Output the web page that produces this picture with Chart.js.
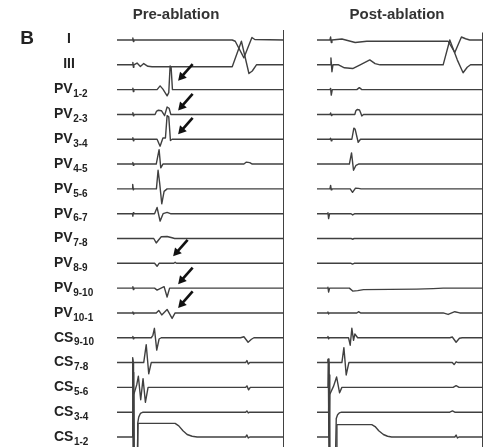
<!DOCTYPE html>
<html>
<head>
<meta charset="utf-8">
<script src="https://cdn.jsdelivr.net/npm/chart.js@4.4.1/dist/chart.umd.min.js"></script>
<style>
  body { margin: 0; background: #fff; }
  #wrap { position: relative; width: 485px; height: 447px; }
  #pre { position: absolute; left: 0; top: 0; }
  #post { position: absolute; left: 290px; top: 0; }
</style>
</head>
<body>
<div id="wrap">
  <canvas id="pre" width="290" height="447"></canvas>
  <canvas id="post" width="195" height="447"></canvas>
</div>
<script>
// channels, top to bottom: name + subscript
const leadNames = ['I', 'III', 'PV', 'PV', 'PV', 'PV', 'PV', 'PV', 'PV', 'PV', 'PV', 'PV', 'CS', 'CS', 'CS', 'CS', 'CS'];
const leadSubs = ['', '', '1-2', '2-3', '3-4', '4-5', '5-6', '6-7', '7-8', '8-9', '9-10', '10-1', '9-10', '7-8', '5-6', '3-4', '1-2'];

// each trace: [time (ms), amplitude (channel spacings)]
// pre-ablation
const preI = [[0,0],[92,0],[95,0.08],[98,-0.06],[101,0],[690,0],[708,-0.05],[760,-0.72],[790,-0.2],[808,0.1],[825,0.02],[1000,0]];
const preIII = [[0,0],[92,0],[95,0.1],[98,-0.1],[101,0],[120,0.07],[140,-0.07],[160,0.05],[185,-0.06],[210,-0.08],[690,-0.08],[745,0.95],[790,-0.35],[810,-0.25],[835,0],[1000,0]];
const prePV12 = [[0,0],[92,0],[95,0.06],[98,-0.08],[101,0],[240,0],[258,0.15],[275,0.02],[300,-0.25],[310,-0.12],[318,0.95],[324,0.9],[332,0],[1000,0]];
const prePV23 = [[0,0],[92,0],[95,0.07],[98,-0.05],[101,0],[228,0],[236,0.12],[248,0.17],[266,0.15],[285,-0.05],[300,0.3],[312,0.25],[322,0],[1000,0]];
const prePV34 = [[0,0],[92,0],[95,0.06],[98,-0.06],[101,0],[240,0],[258,-0.28],[275,0.05],[290,0.05],[300,0.95],[310,0.9],[320,-0.05],[330,0],[1000,0]];
const prePV45 = [[0,0],[92,0],[95,0.06],[98,-0.05],[101,0],[235,0],[252,0.58],[262,-0.15],[275,0],[760,0],[775,0.08],[795,0.06],[810,0],[1000,0]];
const prePV56 = [[0,0],[90,0],[94,0.18],[98,-0.04],[102,0],[236,0],[246,0.75],[256,0.2],[268,-0.6],[282,-0.1],[300,0],[1000,0]];
const prePV67 = [[0,0],[92,0],[95,-0.1],[98,0.04],[101,0],[225,0],[240,0.25],[258,-0.3],[276,0],[300,0.05],[320,0],[1000,0]];
const prePV78 = [[0,0],[220,0],[235,-0.18],[250,-0.05],[265,0.07],[300,0.08],[330,0.03],[345,0],[1000,0]];
const prePV89 = [[0,0],[225,0],[240,-0.12],[252,0],[340,0],[348,0.04],[356,0],[1000,0]];
const prePV910 = [[0,0],[92,0],[95,0.06],[98,-0.06],[101,0],[225,0],[240,-0.08],[255,-0.03],[282,0.06],[300,-0.36],[315,0],[1000,0]];
const prePV101 = [[0,0],[92,0],[95,0.04],[98,-0.04],[101,0],[235,0],[250,0.1],[268,-0.08],[300,0.14],[330,-0.22],[348,0],[1000,0]];
const preCS910 = [[0,0],[92,0],[95,0.05],[98,-0.04],[101,0],[205,0],[215,0.1],[224,0.38],[238,-0.5],[252,-0.05],[265,0],[740,0],[760,0.04],[785,-0.18],[805,-0.06],[820,0],[1000,0]];
const preCS78 = [[0,0],[90,0],[94,0.15],[98,0],[160,0],[175,0.72],[190,-0.45],[205,0],[770,0],[778,0.08],[786,-0.06],[795,0],[1000,0]];
const preCS56 = [[0,0],[92,0],[94,1.2],[97,-2.6],[100,-0.3],[118,0.1],[128,0.45],[142,-0.5],[156,0.35],[170,-0.6],[186,0],[770,0],[778,0.06],[788,-0.1],[798,0],[1000,0]];
const preCS34 = [[0,0],[97,0],[100,1.6],[103,-1.6],[121,-1.6],[124,-0.45],[130,-0.2],[140,-0.05],[156,0],[770,0],[778,0.05],[786,-0.03],[795,0],[1000,0]];
const preCS12 = [[0,0],[94,0],[96,3.0],[99,-0.6],[122,-0.6],[126,0.55],[348,0.55],[370,0.45],[395,0.25],[420,0.1],[450,0.03],[480,0],[770,0],[778,0.08],[786,-0.04],[795,0],[1000,0]];

// post-ablation
const postI = [[0,0],[78,0],[82,0.12],[86,-0.1],[90,0],[150,0.04],[230,-0.1],[300,-0.05],[760,-0.05],[790,-0.05],[830,-0.5],[870,0.12],[895,0.05],[920,0],[1000,0]];
const postIII = [[0,0],[80,0],[84,0.28],[90,-0.28],[96,0],[130,0],[165,-0.12],[215,-0.15],[260,0],[318,0.2],[350,0.05],[380,0],[760,0],[800,1.0],[845,0.2],[880,-0.32],[905,-0.1],[925,0],[1000,0]];
const postPV12 = [[0,0],[78,0],[82,0.05],[86,-0.22],[92,0],[240,0],[255,0.08],[270,0],[1000,0]];
const postPV23 = [[0,0],[78,0],[82,0.06],[86,-0.04],[90,0],[228,0],[234,0.15],[242,0.2],[256,0.18],[264,0.05],[270,-0.06],[280,0],[1000,0]];
const postPV34 = [[0,0],[78,0],[82,0.04],[86,-0.06],[90,0],[210,0],[222,0.45],[230,0.4],[248,-0.12],[262,0],[1000,0]];
const postPV45 = [[0,0],[195,0],[208,0.45],[220,-0.25],[235,-0.05],[250,0],[1000,0]];
const postPV56 = [[0,0],[78,0],[82,0.14],[86,-0.04],[90,0],[200,0],[214,-0.14],[232,0.03],[250,0.02],[265,0],[1000,0]];
const postPV67 = [[0,0],[62,0],[66,0.04],[70,-0.2],[76,0],[205,0],[215,-0.05],[228,0],[1000,0]];
const postPV78 = [[0,0],[205,0],[214,-0.03],[224,0],[1000,0]];
const postPV89 = [[0,0],[205,0],[214,-0.03],[224,0],[1000,0]];
const postPV910 = [[0,0],[62,0],[66,0.04],[70,-0.16],[76,0],[195,0],[215,-0.12],[245,-0.1],[280,-0.06],[600,-0.04],[700,-0.02],[760,0],[1000,0]];
const postPV101 = [[0,0],[62,0],[66,0.04],[70,-0.04],[74,0],[240,0],[250,0.05],[262,0],[760,0],[790,-0.06],[830,0.05],[860,0],[1000,0]];
const postCS910 = [[0,0],[62,0],[66,0.05],[70,-0.04],[74,0],[190,0],[200,-0.3],[210,0.38],[220,-0.1],[228,0.15],[245,0],[800,0],[815,0.03],[838,-0.18],[858,-0.02],[875,0],[1000,0]];
const postCS78 = [[0,0],[62,0],[66,0.12],[72,0],[150,0],[162,0.6],[176,-0.5],[192,0],[815,0],[826,-0.08],[838,0.03],[850,0],[1000,0]];
const postCS56 = [[0,0],[66,0],[68,1.15],[72,-2.6],[76,-0.3],[100,0.05],[118,0.42],[136,-0.22],[150,0],[820,0],[838,0.07],[856,0],[1000,0]];
const postCS34 = [[0,0],[70,0],[73,1.5],[77,-1.6],[112,-1.6],[116,-0.25],[124,-0.1],[134,-0.03],[148,0],[800,0],[816,0.05],[830,0],[1000,0]];
const postCS12 = [[0,0],[70,0],[72,3.0],[76,-0.6],[116,-0.6],[120,0.5],[330,0.5],[350,0.42],[372,0.25],[400,0.1],[425,0.03],[450,0],[830,0],[838,0.08],[846,-0.04],[855,0],[1000,0]];

const preTraces = [preI, preIII, prePV12, prePV23, prePV34, prePV45, prePV56, prePV67, prePV78, prePV89, prePV910, prePV101, preCS910, preCS78, preCS56, preCS34, preCS12];
const postTraces = [postI, postIII, postPV12, postPV23, postPV34, postPV45, postPV56, postPV67, postPV78, postPV89, postPV910, postPV101, postCS910, postCS78, postCS56, postCS34, postCS12];

// arrows marking PV potentials: [time (ms), channel, amplitude]
const preArrows = [[366, 2, 0.36], [366, 3, 0.16], [366, 4, 0.2], [336, 9, 0.28], [366, 10, 0.16], [366, 11, 0.2]];

const SWEEP_MS = 1000;
const Y_MAX = 1.612;
const Y_MIN = -16.403;
const FONT = '"Liberation Sans", Arial, Helvetica, sans-serif';

function buildDatasets(traces, barTop) {
  const sets = traces.map((tr, k) => ({
    data: tr.map(([t, a]) => ({ x: t, y: a - k })),
    borderColor: '#404040',
    borderWidth: 1.4,
    pointRadius: 0,
    tension: 0,
    borderJoinStyle: 'round'
  }));
  // sweep end marker
  sets.push({
    data: [{ x: SWEEP_MS, y: barTop }, { x: SWEEP_MS, y: Y_MIN }],
    borderColor: '#2e2e2e',
    borderWidth: 1.8,
    pointRadius: 0
  });
  return sets;
}

const panelTitle = {
  id: 'panelTitle',
  afterDraw(chart, args, opts) {
    const ctx = chart.ctx;
    ctx.save();
    ctx.fillStyle = '#333';
    ctx.font = 'bold 15px ' + FONT;
    ctx.textAlign = 'center';
    ctx.textBaseline = 'middle';
    ctx.fillText(opts.text, opts.x, 15);
    ctx.restore();
  }
};

const leadLabels = {
  id: 'leadLabels',
  afterDraw(chart) {
    const ctx = chart.ctx;
    const y = chart.scales.y;
    ctx.save();
    ctx.fillStyle = '#222';
    ctx.textBaseline = 'middle';
    leadNames.forEach((name, k) => {
      const py = y.getPixelForValue(-k);
      if (!leadSubs[k]) {
        ctx.font = 'bold 14px ' + FONT;
        ctx.textAlign = 'center';
        ctx.fillText(name, 69, py - 1);
      } else {
        ctx.font = 'bold 14px ' + FONT;
        ctx.textAlign = 'left';
        ctx.fillText(name, 54, py);
        const w = ctx.measureText(name).width;
        ctx.font = 'bold 10px ' + FONT;
        ctx.fillText(leadSubs[k], 54 + w + 0.5, py + 5);
      }
    });
    ctx.font = 'bold 19px ' + FONT;
    ctx.textAlign = 'center';
    ctx.fillText('B', 27, 39);
    ctx.restore();
  }
};

const arrowMarks = {
  id: 'arrowMarks',
  afterDatasetsDraw(chart) {
    const ctx = chart.ctx;
    const { x, y } = chart.scales;
    const dx = 0.66, dy = -0.75;
    const len = 22, head = 8, half = 4.5;
    ctx.save();
    ctx.strokeStyle = '#111';
    ctx.fillStyle = '#111';
    ctx.lineWidth = 2.6;
    preArrows.forEach(([t, k, a]) => {
      const px = x.getPixelForValue(t);
      const py = y.getPixelForValue(a - k);
      ctx.beginPath();
      ctx.moveTo(px + dx * (head - 1), py + dy * (head - 1));
      ctx.lineTo(px + dx * len, py + dy * len);
      ctx.stroke();
      const bx = px + dx * head, by = py + dy * head;
      ctx.beginPath();
      ctx.moveTo(px, py);
      ctx.lineTo(bx - dy * half, by + dx * half);
      ctx.lineTo(bx + dy * half, by - dx * half);
      ctx.closePath();
      ctx.fill();
    });
    ctx.restore();
  }
};

function makeChart(id, traces, barTop, padLeft, padRight, title, titleX, extra) {
  return new Chart(document.getElementById(id), {
    type: 'line',
    data: { datasets: buildDatasets(traces, barTop) },
    options: {
      responsive: false,
      animation: false,
      devicePixelRatio: 1,
      layout: { padding: { left: padLeft, right: padRight, top: 0, bottom: 0 } },
      plugins: {
        legend: { display: false },
        tooltip: { enabled: false },
        panelTitle: { text: title, x: titleX }
      },
      scales: {
        x: { type: 'linear', min: 0, max: SWEEP_MS, display: false },
        y: { min: Y_MIN, max: Y_MAX, display: false }
      }
    },
    plugins: [panelTitle].concat(extra)
  });
}

makeChart('pre', preTraces, 0.4, 117, 6, 'Pre-ablation', 176, [leadLabels, arrowMarks]);
makeChart('post', postTraces, 0.3, 27, 2, 'Post-ablation', 107, []);
</script>
</body>
</html>
